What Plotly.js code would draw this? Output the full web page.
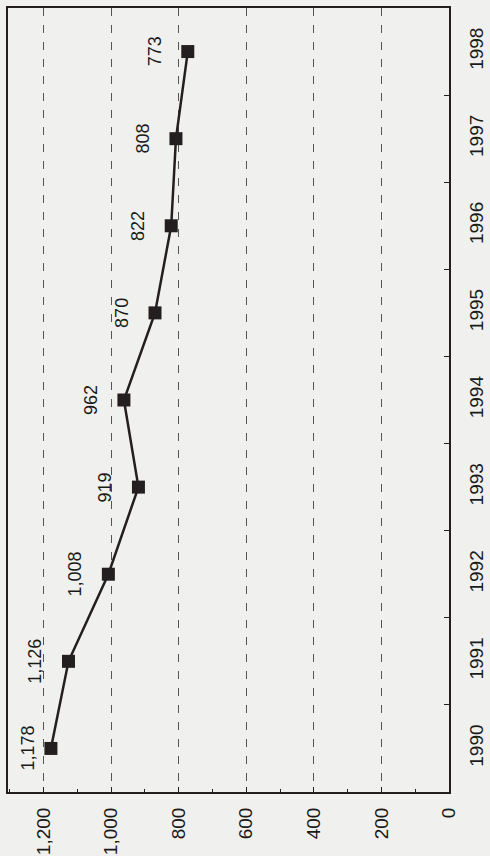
<!DOCTYPE html>
<html>
<head>
<meta charset="utf-8">
<script src="https://cdn.plot.ly/plotly-3.0.1.min.js"></script>
<style>
html,body{margin:0;padding:0;background:#f0f0ee;}
#chart{width:490px;height:856px;}
</style>
</head>
<body>
<div id="chart"></div>
<script>
const years = ['1990','1991','1992','1993','1994','1995','1996','1997','1998'];
const values = [1178, 1126, 1008, 919, 962, 870, 822, 808, 773];
const valueTicks = [0, 200, 400, 600, 800, 1000, 1200];

const fmt = v => String(v).replace(/\B(?=(\d{3})+(?!\d))/g, ',');

const W = 490, H = 856;
const margin = {l: 8, r: 41, t: 8, b: 64};
const xMax = 1305;
const pxPerUnit = (W - margin.l - margin.r) / xMax;

const trace = {
  type: 'scatter',
  mode: 'lines+markers',
  x: values,
  y: years,
  line: {color: '#231f20', width: 2.5},
  marker: {symbol: 'square', size: 13, color: '#231f20'},
  hoverinfo: 'skip'
};

// labels sit ~33px "above" each point, kept clear of the frame edge
const annotations = years.map((yr, i) => {
  const distToEdge = (xMax - values[i]) * pxPerUnit;
  const shift = Math.max(-33, -(distToEdge - 20));
  return {
    x: values[i], y: i, xref: 'x', yref: 'y',
    text: fmt(values[i]), showarrow: false, textangle: -90,
    xshift: shift,
    font: {family: 'Liberation Sans, Arial, sans-serif', size: 18, color: '#1a1a1a'}
  };
});

const layout = {
  width: W, height: H,
  margin: margin,
  paper_bgcolor: '#f0f0ee',
  plot_bgcolor: '#f0f0ee',
  showlegend: false,
  font: {family: 'Liberation Sans, Arial, sans-serif', color: '#1a1a1a'},
  xaxis: {
    range: [xMax, 0],
    tickvals: valueTicks,
    ticktext: valueTicks.map(fmt),
    tickangle: -90,
    tickfont: {size: 19},
    ticks: 'inside', ticklen: 5, tickcolor: '#231f20',
    minor: {dtick: 100, ticks: 'inside', ticklen: 3, tickcolor: '#231f20', showgrid: false},
    showgrid: true, gridcolor: '#555', gridwidth: 1, griddash: '8px,9px',
    zeroline: false,
    showline: true, linecolor: '#231f20', linewidth: 2, mirror: true,
    ticklabelstandoff: 6,
    fixedrange: true
  },
  yaxis: {
    type: 'category',
    categoryorder: 'array', categoryarray: years,
    range: [-0.5, 8.5],
    side: 'right',
    tickangle: -90,
    tickfont: {size: 19},
    ticks: 'inside', ticklen: 5, tickcolor: '#231f20',
    tickson: 'boundaries',
    showgrid: false, zeroline: false,
    showline: true, linecolor: '#231f20', linewidth: 2, mirror: true,
    ticklabelstandoff: 9,
    fixedrange: true
  },
  annotations: annotations
};

Plotly.newPlot('chart', [trace], layout, {displayModeBar: false, staticPlot: true});
</script>
</body>
</html>
